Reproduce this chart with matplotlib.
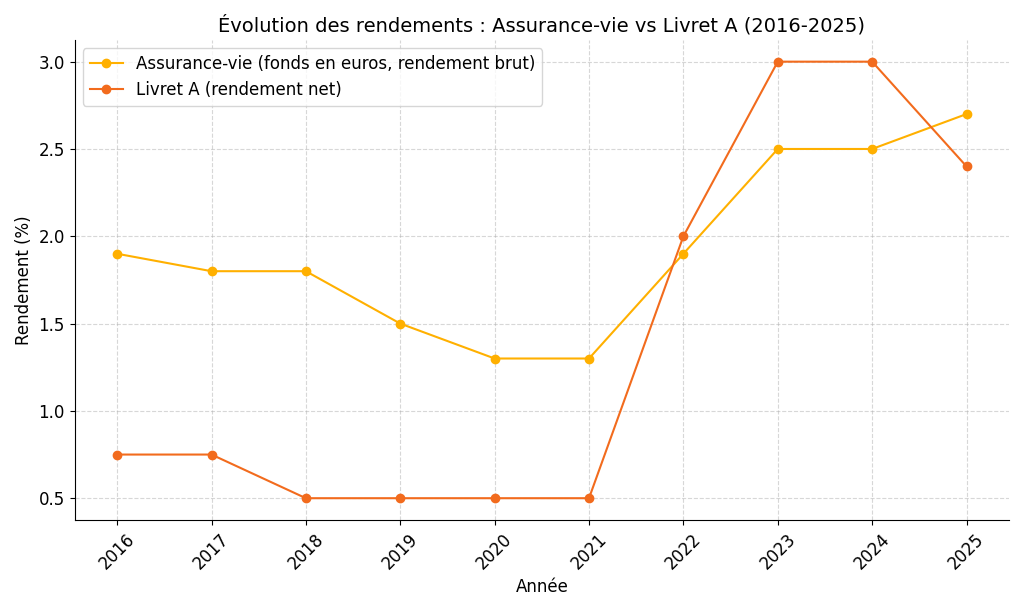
import matplotlib.pyplot as plt

years = [2016, 2017, 2018, 2019, 2020, 2021, 2022, 2023, 2024, 2025]
assurance_vie = [1.9, 1.8, 1.8, 1.5, 1.3, 1.3, 1.9, 2.5, 2.5, 2.7]
livret_a = [0.75, 0.75, 0.5, 0.5, 0.5, 0.5, 2.0, 3.0, 3.0, 2.4]

fig, ax = plt.subplots(figsize=(10.24, 6.11), dpi=100)
ax.plot(years, assurance_vie, marker='o', markersize=6, color='#FFB000',
        label='Assurance-vie (fonds en euros, rendement brut)')
ax.plot(years, livret_a, marker='o', markersize=6, color='#F26B1D',
        label='Livret A (rendement net)')

ax.set_title("Évolution des rendements : Assurance-vie vs Livret A (2016-2025)", fontsize=14)
ax.set_xlabel("Année", fontsize=12)
ax.set_ylabel("Rendement (%)", fontsize=12)
ax.set_xticks(years)
ax.tick_params(axis='x', rotation=45, labelsize=12)
ax.tick_params(axis='y', labelsize=12)
ax.grid(True, linestyle='--', alpha=0.5)
ax.spines['top'].set_visible(False)
ax.spines['right'].set_visible(False)
ax.legend(loc='upper left', fontsize=12)

plt.tight_layout()
plt.savefig("out.png")
